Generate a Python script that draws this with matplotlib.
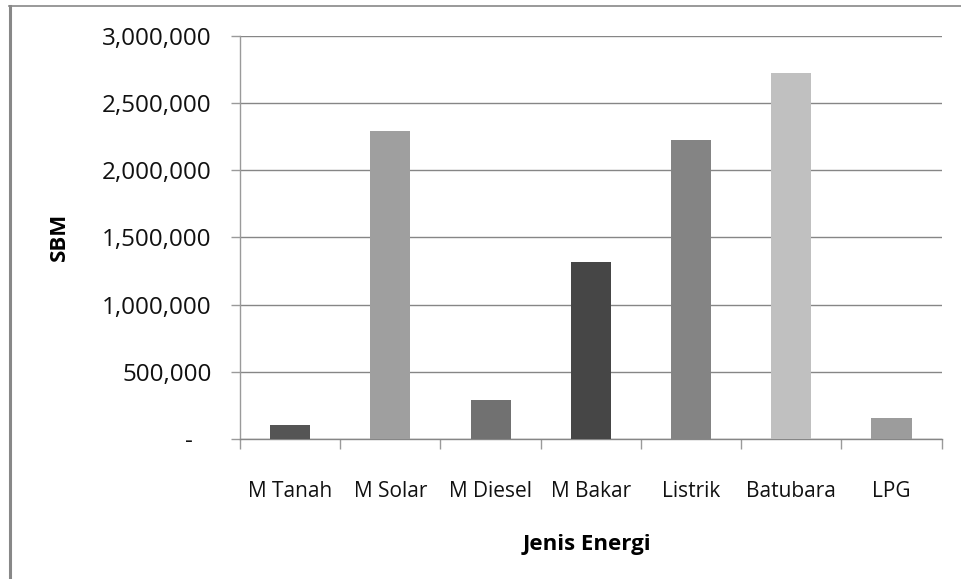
import matplotlib
matplotlib.use("Agg")
import matplotlib.pyplot as plt
from matplotlib.lines import Line2D
from matplotlib.ticker import FuncFormatter, FixedLocator

categories = ["M Tanah", "M Solar", "M Diesel", "M Bakar", "Listrik", "Batubara", "LPG"]
values = [104000, 2291000, 290000, 1317000, 2224000, 2722000, 156000]
colors = ["#555555", "#9f9f9f", "#717171", "#464646", "#848484", "#c0c0c0", "#9c9c9c"]
y_ticks = [0, 500000, 1000000, 1500000, 2000000, 2500000, 3000000]

plt.rcParams['font.family'] = ['Open Sans', 'DejaVu Sans']

fig = plt.figure(figsize=(9.62, 5.79), dpi=100)
ax = fig.add_axes([0.2495, 0.2418, 0.9788 - 0.2495, 0.9383 - 0.2418])

x = list(range(len(categories)))
ax.bar(x, values, width=0.4, color=colors, zorder=3)

ax.set_xlim(-0.5, len(categories) - 0.5)
ax.set_ylim(0, 3000000)
ax.set_yticks(y_ticks)

def fmt(v, pos):
    if v == 0:
        return "-   "
    return f"{int(v):,}"

ax.yaxis.set_major_formatter(FuncFormatter(fmt))
ax.set_xticks(x)
ax.set_xticklabels(categories)
ax.xaxis.set_minor_locator(FixedLocator([i - 0.5 for i in range(len(categories) + 1)]))

gridc = "#868686"
ax.grid(axis='y', color=gridc, linewidth=1.0, zorder=0)
for s in ['top', 'right']:
    ax.spines[s].set_visible(False)
ax.spines['left'].set_color("#9a9a9a")
ax.spines['bottom'].set_color(gridc)
ax.spines['left'].set_linewidth(1.0)
ax.spines['bottom'].set_linewidth(1.0)

ax.tick_params(axis='y', which='major', length=6.5, width=1.0, color="#9a9a9a",
               labelsize=17.5, pad=14, labelcolor="#111111")
ax.tick_params(axis='x', which='major', length=0, labelsize=15, pad=30,
               labelcolor="#111111")
ax.tick_params(axis='x', which='minor', length=7, width=1.0, color="#9a9a9a")

ax.set_ylabel("SBM", fontsize=16, fontweight='bold')
ax.yaxis.set_label_coords(-0.242, 0.5)
ax.set_xlabel("Jenis Energi", fontsize=16, fontweight='bold')
ax.xaxis.set_label_coords(0.495, -0.236)

# outer chart border (left and top)
fig.add_artist(Line2D([10 / 962, 10 / 962], [0, 1 - 6 / 579], transform=fig.transFigure,
                      color="#888888", linewidth=2.2))
fig.add_artist(Line2D([9 / 962, 1], [1 - 6 / 579, 1 - 6 / 579], transform=fig.transFigure,
                      color="#888888", linewidth=1.2))

fig.savefig("out.png", dpi=100)
